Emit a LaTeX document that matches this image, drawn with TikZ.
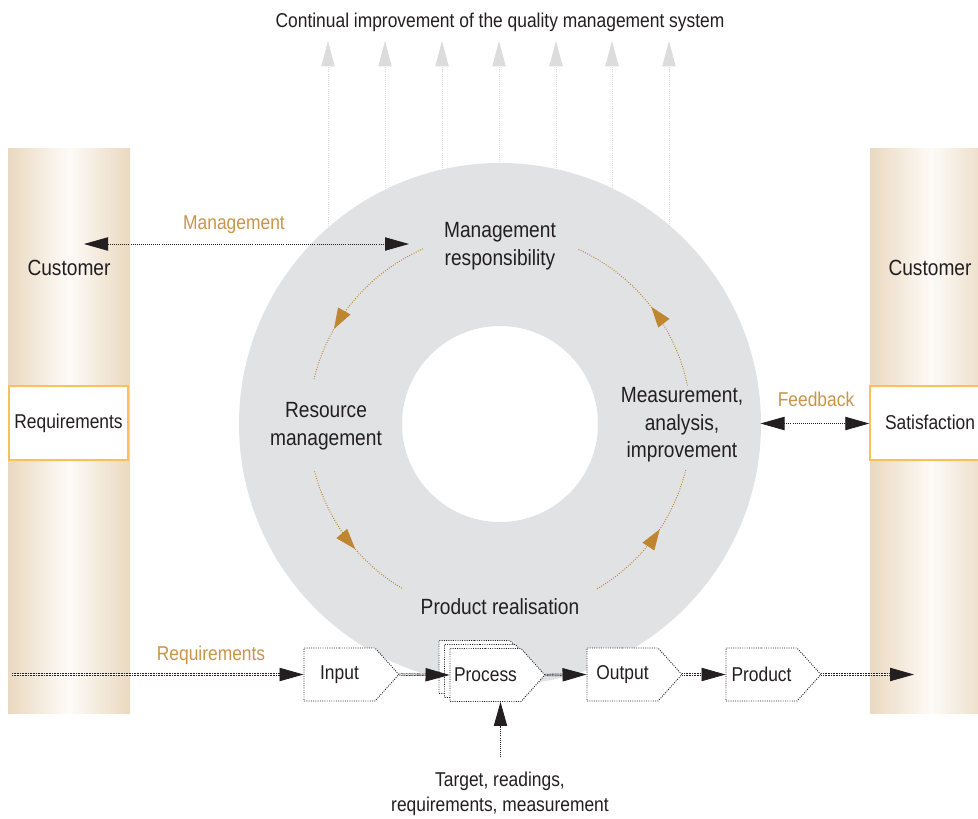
\documentclass[tikz,border=0pt]{standalone}
\usepackage{fontspec}
\setmainfont{Liberation Sans}[FakeStretch=0.87]
\usetikzlibrary{arrows.meta,shapes.symbols,decorations.markings}
\definecolor{txtdark}{HTML}{231F20}
\definecolor{lblorange}{HTML}{C8944A}
\definecolor{arcorange}{HTML}{BE8631}
\definecolor{ringgray}{HTML}{E1E2E4}
\definecolor{arrowgray}{HTML}{DCDCDC}
\definecolor{colbeige}{HTML}{EAD9C0}
\definecolor{colmid}{HTML}{FDFBF8}
\definecolor{boxorange}{HTML}{FBBF5C}
\tikzset{
  txt/.style={text=txtdark, font=\fontsize{15}{18.75}\selectfont, align=center, inner sep=0pt},
  bigtxt/.style={text=txtdark, font=\fontsize{16.5}{21}\selectfont, align=center, inner sep=0pt},
  lbl/.style={text=lblorange, font=\fontsize{15}{18}\selectfont, inner sep=0pt},
  column/.style={left color=colbeige, right color=colbeige, middle color=colmid, draw=none,
    minimum width=91.5pt, minimum height=423.75pt, inner sep=0pt},
  reqbox/.style={draw=boxorange, line width=1.1pt, fill=white, minimum height=55.5pt, inner sep=0pt},
  flowbox/.style={shape=signal, signal to=east, signal pointer angle=96, draw=txtdark, fill=white,
    line width=0.7pt, dash pattern=on 0.7pt off 1pt, text width=53.25pt, align=center,
    inner xsep=0pt, inner ysep=0pt, minimum height=39.75pt, text=txtdark, font=\fontsize{15}{18}\selectfont},
  flowline/.style={draw=txtdark, line width=0.6pt, double=white, double distance=0.6pt,
    dash pattern=on 0.7pt off 0.5pt, -{Triangle[length=18pt,width=10pt]}},
  dotline/.style={draw=txtdark, line width=0.65pt, dash pattern=on 0.65pt off 0.9pt},
  grayarrow/.style={draw=arrowgray, line width=0.6pt, dash pattern=on 0.6pt off 1pt,
    -{Triangle[length=19pt,width=10pt]}},
  arcflow/.style={draw=arcorange, line width=0.7pt, dash pattern=on 0.7pt off 1.1pt,
    postaction={decorate}, decoration={markings, mark=at position #1 with
    {\arrow[arcorange, solid]{Triangle[length=15.5pt,width=10.5pt]}}}}
}
\begin{document}
\begin{tikzpicture}[x=0.75pt, y=0.75pt]
\useasboundingbox (0,0) rectangle (978,-818);
\clip (0,0) rectangle (978,-818);
% columns
\node[column] (colL) at (69,-430.5) {};
\node[column] (colR) at (931,-430.5) {};
% top arrows
\foreach \i/\xx in {1/328,2/385,3/442,4/499,5/556,6/612,7/669}{
  \coordinate (ga\i) at (\xx,-228);
  \coordinate (gb\i) at (\xx,-41);
  \draw[grayarrow] (ga\i) -- (gb\i);
}
\node[txt] (title) at (500,-22) {Continual improvement of the quality management system};
% ring
\coordinate (ctr) at (500,-424);
\fill[ringgray, even odd rule] (ctr) circle[radius=195.75pt] (ctr) circle[radius=73.5pt];
% customer texts and boxes
\node[bigtxt] (custL) at (69,-268) {Customer};
\node[bigtxt] (custR) at (930,-268) {Customer};
\node[reqbox, minimum width=89.25pt] (req) at (68.5,-423) {};
\node[txt] at (req.center) {Requirements};
\node[reqbox, minimum width=91.5pt] (sat) at (931,-423) {};
\node[txt] (sattxt) at (930,-422) {Satisfaction};
% ring labels
\node[bigtxt] (mresp) at (500,-246) {Management\\responsibility};
\node[bigtxt] (resm) at (326,-426) {Resource\\management};
\node[bigtxt, font=\fontsize{16.5}{20.6}\selectfont] (meas) at (682,-425) {Measurement,\\analysis,\\improvement};
\node[bigtxt] (prod) at (500,-607) {Product realisation};
% arcs
\draw[arcflow=0.69] (ctr) ++(113.7:143.5pt) arc[start angle=113.7, end angle=166.6, radius=143.5pt];
\draw[arcflow=0.59] (ctr) ++(194.3:143.5pt) arc[start angle=194.3, end angle=239.3, radius=143.5pt];
\draw[arcflow=0.57] (ctr) ++(300.5:143.5pt) arc[start angle=300.5, end angle=346.3, radius=143.5pt];
\draw[arcflow=0.48] (ctr) ++(11.6:143.5pt) arc[start angle=11.6, end angle=66.1, radius=143.5pt];
% management arrow
\coordinate (mL) at (84,-244);
\coordinate (mR) at (409,-244);
\draw[dotline, {Triangle[length=18pt,width=10pt]}-{Triangle[length=18pt,width=10pt]}] (mL) -- (mR);
\node[lbl] (mlbl) at (234,-225) {Management};
% feedback arrow
\coordinate (fL) at (760.5,-423.5);
\draw[dotline, {Triangle[length=18pt,width=10pt]}-{Triangle[length=18pt,width=10pt]}] (fL) -- (sat.west |- fL);
\node[lbl] (flbl) at (816,-399) {Feedback};
% flow
\node[flowbox] (input) at (339.5,-674.5) {Input};
\node[flowbox] (procC) at (474.5,-667) {};
\node[flowbox] (procB) at (480,-671) {};
\node[flowbox] (process) at (485.5,-675) {Process};
\node[flowbox] (output) at (622.5,-674.5) {Output};
\node[flowbox] (product) at (761.5,-674.5) {Product};
\coordinate (startL) at (12,-674.5);
\coordinate (endR) at (914,-674.5);
\draw[flowline] (startL) -- (input.west);
\draw[flowline] (input.east) -- (process.west);
\draw[flowline] (process.east) -- (output.west);
\draw[flowline] (output.east) -- (product.west);
\draw[flowline] (product.east) -- (endR);
\node[lbl] (rlbl) at (211,-655) {Requirements};
% target arrow
\coordinate (tgt) at (500.5,-757);
\draw[dotline, -{Triangle[length=18pt,width=10pt]}] (tgt) -- (tgt |- process.south);
\node[txt] (tgttxt) at (500,-794) {Target, readings,\\requirements, measurement};
\end{tikzpicture}
\end{document}
